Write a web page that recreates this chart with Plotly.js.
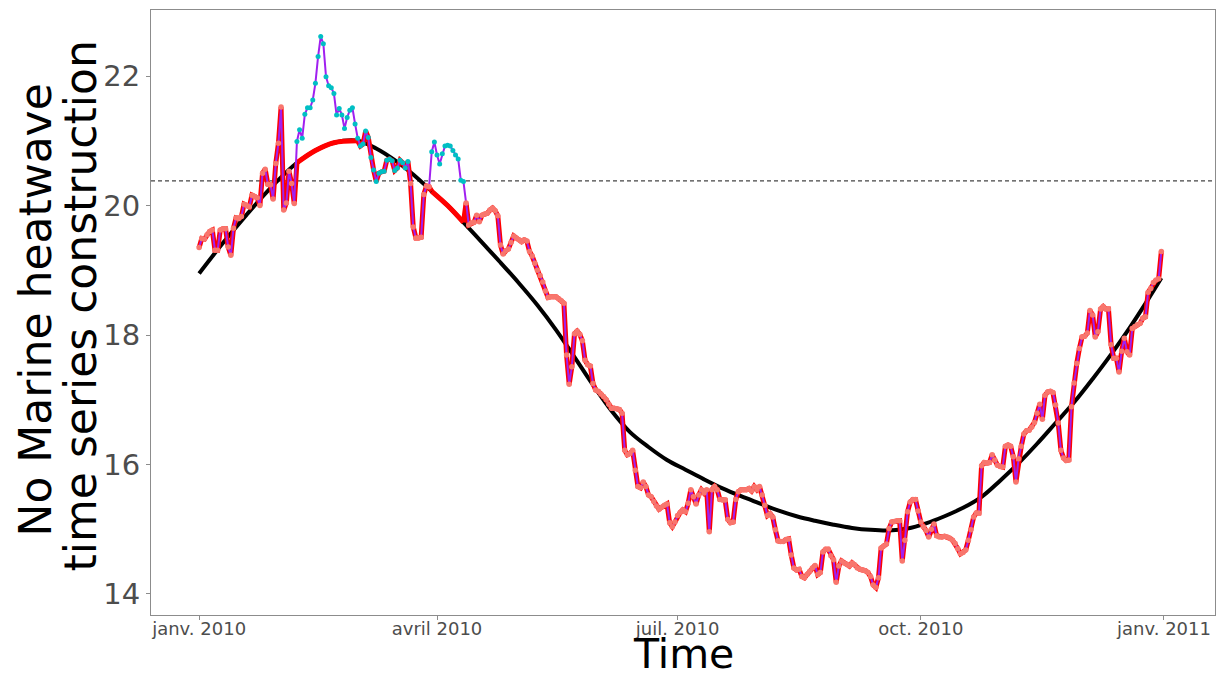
<!DOCTYPE html>
<html>
<head>
<meta charset="utf-8">
<script src="https://cdn.plot.ly/plotly-3.0.1.min.js"></script>
<style>
  html, body { margin: 0; padding: 0; background: #ffffff; }
  #chart { width: 1225px; height: 679px; }
</style>
</head>
<body>
<div id="chart"></div>
<script>
// Daily sea surface temperature, 1 Jan 2010 .. 31 Dec 2010
const startDate = "2010-01-01";
const temp = [
  19.35, 19.49, 19.48, 19.55, 19.60, 19.62, 19.31, 19.31, 19.62, 19.64,
  19.64, 19.36, 19.23, 19.65, 19.81, 19.80, 19.83, 20.02, 20.00, 19.98,
  20.16, 20.14, 20.12, 20.00, 20.50, 20.56, 20.33, 20.32, 20.10, 20.65,
  20.96, 21.52, 19.93, 20.04, 20.53, 20.34, 20.03,
  20.99, 21.17, 21.04, 21.41, 21.51, 21.51, 21.63, 21.89, 22.30, 22.61,
  22.50, 21.99, 21.85, 21.82, 21.73, 21.40, 21.50, 21.40, 21.19, 21.36,
  21.47, 21.51, 21.26, 21.04,
  20.92, 20.95, 21.15, 21.05, 20.74, 20.55, 20.37, 20.50, 20.52, 20.53,
  20.70, 20.72, 20.69, 20.54, 20.58, 20.70, 20.66, 20.58, 20.68, 20.34,
  19.67, 19.50, 19.50, 19.51, 20.17, 20.30, 20.29, 20.83, 20.98, 20.78,
  20.64, 20.80, 20.92, 20.93, 20.92, 20.85, 20.78, 20.72, 20.39, 20.37,
  20.04, 19.70, 19.73, 19.74, 19.85, 19.75, 19.85, 19.87, 19.88, 19.93,
  19.96, 19.92, 19.84, 19.39, 19.25, 19.30, 19.33, 19.43, 19.53, 19.50,
  19.47, 19.44, 19.47, 19.45, 19.29, 19.22, 19.11, 19.00, 18.92, 18.82,
  18.68, 18.58, 18.59, 18.59, 18.59, 18.56, 18.53, 18.49, 17.69, 17.24,
  17.51, 18.02, 18.06, 18.01, 17.91, 17.61, 17.54, 17.52, 17.25, 17.15,
  17.13, 17.09, 17.05, 17.00, 16.93, 16.87, 16.87, 16.86, 16.85,
  16.79, 16.22, 16.15, 16.17, 16.22, 15.91, 15.66, 15.64, 15.73, 15.66,
  15.53, 15.50, 15.43, 15.36, 15.31, 15.34, 15.37, 15.39, 15.10, 15.04,
  15.11, 15.21, 15.26, 15.30, 15.27, 15.40, 15.61, 15.50, 15.39, 15.53,
  15.61, 15.56, 15.61, 14.96, 15.61, 15.66, 15.61, 15.46, 15.45, 15.45,
  15.15, 15.10, 15.11, 15.46, 15.58, 15.61, 15.61, 15.61, 15.63, 15.59,
  15.66, 15.61, 15.66, 15.53, 15.37, 15.21, 15.24, 15.19, 14.99, 14.82,
  14.81, 14.81, 14.84, 14.85, 14.60, 14.40, 14.37, 14.38, 14.27, 14.25,
  14.30, 14.35, 14.40, 14.44, 14.30, 14.33, 14.65, 14.69, 14.69, 14.59,
  14.53, 14.18, 14.43, 14.51, 14.48, 14.46, 14.43, 14.48, 14.45, 14.40,
  14.38, 14.37, 14.36, 14.33, 14.27, 14.14, 14.10, 14.25, 14.71, 14.74,
  14.77, 15.01, 15.11, 15.12, 15.13, 15.13, 14.51, 14.83, 15.27, 15.42,
  15.46, 15.46, 15.28, 15.11, 15.04, 14.98, 14.88, 15.00, 15.08, 14.90,
  14.88, 14.88, 14.89, 14.88, 14.86, 14.83, 14.78, 14.70, 14.62, 14.64,
  14.68, 14.83, 14.99, 15.19, 15.25, 15.25, 15.98, 16.03, 16.02, 16.03,
  16.15, 16.07, 15.99, 15.97, 15.96, 16.28, 16.30, 16.28, 16.12, 15.73,
  16.09, 16.28, 16.47, 16.52, 16.53, 16.58, 16.65, 16.79, 16.93, 16.70,
  17.07, 17.12, 17.13, 17.11, 16.92, 16.64, 16.22, 16.10, 16.06, 16.07,
  16.89,
  17.26, 17.56, 17.79, 17.97, 17.98, 18.03, 18.38, 18.31, 17.97, 18.05,
  18.40, 18.44, 18.40, 18.40, 17.85, 17.64, 17.64, 17.43, 17.75, 17.95,
  17.74, 17.69, 18.10, 18.13, 18.16, 18.18, 18.26, 18.28, 18.66, 18.72,
  18.81, 18.85, 18.87, 19.29
];

// Seasonal climatology, sampled on selected days (offset from startDate)
const climDay = [0, 9, 18, 27, 37, 44, 51, 60, 67, 74, 81, 88, 94, 100, 107, 114,
  121, 128, 135, 142, 149, 156, 163, 170, 177, 184, 191, 198, 205, 212, 219,
  226, 233, 240, 247, 254, 261, 268, 275, 282, 289, 296, 303, 310, 317, 324,
  331, 338, 345, 352, 359, 364];
const climValue = [18.95, 19.42, 19.86, 20.27, 20.66, 20.85, 20.97, 21.00, 20.88,
  20.70, 20.48, 20.22, 20.00, 19.74, 19.43, 19.12, 18.80, 18.46, 18.08, 17.66,
  17.23, 16.83, 16.50, 16.27, 16.07, 15.92, 15.77, 15.63, 15.51, 15.40, 15.29,
  15.20, 15.13, 15.07, 15.02, 14.99, 14.98, 15.01, 15.09, 15.20, 15.33, 15.50,
  15.75, 16.02, 16.32, 16.64, 16.96, 17.32, 17.70, 18.11, 18.55, 18.88];

// Days flagged as heatwave (first and last day of each run)
const eventStart = ["2010-02-07", "2010-03-30"];
const eventEnd   = ["2010-03-21", "2010-04-11"];
// Windows where the reconstructed series takes the climatology instead of the data
const swapStart = ["2010-02-07", "2010-03-30"];
const swapEnd   = ["2010-03-02", "2010-04-11"];

const threshold = 20.38;

const tickDates = ["2010-01-01", "2010-04-01", "2010-07-01", "2010-10-01", "2011-01-01"];
const tickLabels = ["janv. 2010", "avril 2010", "juil. 2010", "oct. 2010", "janv. 2011"];

// ---- helpers ----
const DAY = 86400000;
const t0 = Date.parse(startDate + "T00:00:00Z");
const dayToDate = d => new Date(t0 + d * DAY).toISOString().slice(0, 10);
const dateToDay = s => Math.round((Date.parse(s + "T00:00:00Z") - t0) / DAY);

const dates = temp.map((_, i) => dayToDate(i));
const climDates = climDay.map(dayToDate);

const inWindows = (i, starts, ends) =>
  starts.some((s, k) => i >= dateToDay(s) && i <= dateToDay(ends[k]));

const isEvent = temp.map((_, i) => inWindows(i, eventStart, eventEnd));
const isSwap = temp.map((_, i) => inWindows(i, swapStart, swapEnd));

const climAt = d => climValue[climDay.indexOf(d)];

// Reconstructed series: data segments joined to the climatology where swapped
const redData = [];
const redClim = [];
let seg = null;
for (let i = 0; i < temp.length; i++) {
  if (!isSwap[i]) {
    if (!seg) {
      seg = { x: [], y: [] };
      if (i > 0 && isSwap[i - 1]) { seg.x.push(dates[i - 1]); seg.y.push(climAt(i - 1)); }
    }
    seg.x.push(dates[i]); seg.y.push(temp[i]);
    if (i + 1 < temp.length && isSwap[i + 1]) {
      seg.x.push(dates[i + 1]); seg.y.push(climAt(i + 1));
      redData.push(seg); seg = null;
    }
  }
}
if (seg) redData.push(seg);
swapStart.forEach((s, k) => {
  const a = dateToDay(s), b = dateToDay(swapEnd[k]);
  const xs = [], ys = [];
  climDay.forEach((d, j) => { if (d >= a && d <= b) { xs.push(climDates[j]); ys.push(climValue[j]); } });
  redClim.push({ x: xs, y: ys });
});

const traces = [];
traces.push({
  x: climDates, y: climValue, type: "scatter", mode: "lines",
  line: { color: "#000000", width: 4, shape: "spline" }, hoverinfo: "skip"
});
redData.forEach(s => traces.push({
  x: s.x, y: s.y, type: "scatter", mode: "lines",
  line: { color: "#FF0000", width: 5 }, hoverinfo: "skip"
}));
redClim.forEach(s => traces.push({
  x: s.x, y: s.y, type: "scatter", mode: "lines",
  line: { color: "#FF0000", width: 5, shape: "spline" }, hoverinfo: "skip"
}));
traces.push({
  x: dates, y: temp, type: "scatter", mode: "lines",
  line: { color: "#A020F0", width: 2 }
});
traces.push({
  x: dates.filter((_, i) => !isEvent[i]), y: temp.filter((_, i) => !isEvent[i]),
  type: "scatter", mode: "markers",
  marker: { color: "#F8766D", size: 5.5 }
});
traces.push({
  x: dates.filter((_, i) => isEvent[i]), y: temp.filter((_, i) => isEvent[i]),
  type: "scatter", mode: "markers",
  marker: { color: "#00BFC4", size: 5 }
});

const padLeft = 0.05 * (temp.length - 1);
const padRight = 20.3;
const layout = {
  width: 1225, height: 679,
  margin: { l: 151, r: 10, t: 10, b: 64 },
  paper_bgcolor: "#ffffff", plot_bgcolor: "#ffffff",
  showlegend: false,
  font: { family: "DejaVu Sans, sans-serif" },
  xaxis: {
    type: "date",
    range: [t0 - padLeft * DAY, t0 + (temp.length - 1 + padRight) * DAY],
    tickvals: tickDates, ticktext: tickLabels,
    tickfont: { size: 18, color: "#4d4d4d" },
    ticks: "outside", ticklen: 4, tickcolor: "#8c8c8c", tickwidth: 1,
    ticklabelstandoff: -7,
    showgrid: false, zeroline: false,
    showline: true, mirror: true, linecolor: "#8c8c8c", linewidth: 1
  },
  yaxis: {
    range: [13.675, 23.02],
    tickvals: [14, 16, 18, 20, 22],
    tickfont: { size: 29, color: "#4d4d4d" },
    ticks: "outside", ticklen: 4, tickcolor: "#8c8c8c", tickwidth: 1,
    showgrid: false, zeroline: false,
    showline: true, mirror: true, linecolor: "#8c8c8c", linewidth: 1
  },
  shapes: [{
    type: "line", xref: "paper", x0: 0, x1: 1, yref: "y", y0: threshold, y1: threshold,
    line: { color: "#444444", width: 1.2, dash: "4px,3px" }, layer: "below"
  }],
  annotations: [
    { text: "Time", xref: "paper", yref: "paper", x: 0.5, y: 0,
      xanchor: "center", yanchor: "top", yshift: -14, borderpad: 0,
      showarrow: false, font: { size: 41, color: "#000000" } },
    { text: "No Marine heatwave", textangle: -90, xref: "paper", yref: "paper",
      x: 0, y: 0.5, xanchor: "center", yanchor: "middle", xshift: -116, yshift: 2,
      showarrow: false, font: { size: 44, color: "#000000" } },
    { text: "time series construction", textangle: -90, xref: "paper", yref: "paper",
      x: 0, y: 0.5, xanchor: "center", yanchor: "middle", xshift: -71, yshift: 6,
      showarrow: false, font: { size: 44, color: "#000000" } }
  ]
};

Plotly.newPlot("chart", traces, layout, { displayModeBar: false, staticPlot: true });
</script>
</body>
</html>
